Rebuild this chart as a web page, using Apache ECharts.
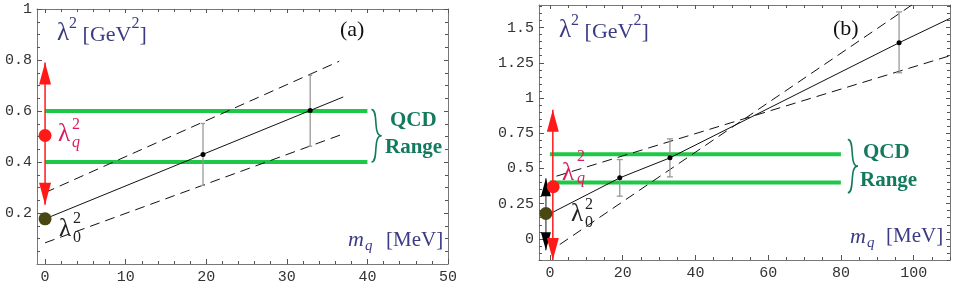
<!DOCTYPE html>
<html><head><meta charset="utf-8">
<script src="https://cdn.jsdelivr.net/npm/echarts@6/dist/echarts.min.js"></script>
<style>html,body{margin:0;padding:0;background:#fff}#c{width:954px;height:286px}</style>
</head><body><div id="c"></div>
<script>
// ---------- Panel (a) data ----------
const aXTicks = [0, 10, 20, 30, 40, 50];
const aYTicks = [0.2, 0.4, 0.6, 0.8, 1];
const aQcdLow = [[0, 0.4], [40, 0.4]];
const aQcdHigh = [[0, 0.6], [40, 0.6]];
const aFitLine = [[0, 0.177], [37, 0.655]];
const aDashUpper = [[0, 0.28], [36.5, 0.795]];
const aDashLower = [[0, 0.083], [37, 0.51]];
const aPoints = [[19.6, 0.429], [32.9, 0.602]];
const aErrors = [[19.6, 0.308, 0.551], [32.9, 0.462, 0.74]];
const aLambdaQ = [[0, 0.504]];
const aLambdaQRange = [[0, 0.232, 0.79]];
const aLambda0 = [[0, 0.177]];
const aBrace = [[40.5, 0.4, 0.606]];

// ---------- Panel (b) data ----------
const bXTicks = [0, 20, 40, 60, 80, 100];
const bYTicks = [0, 0.25, 0.5, 0.75, 1, 1.25, 1.5];
const bQcdLow = [[0, 0.4], [80, 0.4]];
const bQcdHigh = [[0, 0.6], [80, 0.6]];
const bFitLine = [[0.5, 0.185], [19.2, 0.433], [33.0, 0.575], [96.0, 1.392], [110, 1.565]];
const bDashShallow = [[1.8, 0.445], [110, 1.30]];
const bDashSteep = [[2.7, -0.04], [99.5, 1.66]];
const bPoints = [[19.2, 0.433], [33.0, 0.575], [96.0, 1.392]];
const bErrors = [[19.2, 0.303, 0.563], [33.0, 0.44, 0.71], [96.0, 1.179, 1.611]];
const bLambdaQ = [[0.9, 0.37]];
const bLambdaQRange = [[0.8, -0.15, 0.917]];
const bLambda0 = [[-1.1, 0.18]];
const bLambda0Range = [[-1.1, -0.08, 0.43]];
const bBrace = [[81.9, 0.327, 0.705]];

function steps(a, b, s) { const r = []; for (let v = a; v <= b + 1e-9; v += s) r.push(+v.toFixed(4)); return r; }
const aXMinor = steps(0, 50, 2), aYMinor = steps(0.05, 1, 0.05);
const bXMinor = steps(0, 110, 5), bYMinor = steps(-0.15, 1.65, 0.05);

const SERIF = "'Liberation Serif','DejaVu Serif',serif";
const MONO = "'Liberation Mono','DejaVu Sans Mono',monospace";
const FRAME = '#777';
const NAVY = '#3b3b85', PINK = '#d81c5c', TEAL = '#137a5e', GREEN = '#1ec846';

function axesFor(dim, g, min, max, major, minor, fmt) {
  const posA = dim === 'x' ? 'bottom' : 'left';
  const posB = dim === 'x' ? 'top' : 'right';
  const base = { type: 'value', gridIndex: g, min, max, splitLine: { show: false },
    axisLine: { show: true, onZero: false, lineStyle: { color: FRAME, width: 1 } } };
  const tick = (vals, len) => ({ show: true, inside: true, length: len, customValues: vals, lineStyle: { color: '#555', width: 1 } });
  return [
    Object.assign({}, base, { position: posA, axisTick: tick(major, 5),
      axisLabel: { show: true, customValues: major, margin: dim === 'x' ? 6 : 5, fontFamily: MONO, fontSize: 15, color: '#333', formatter: fmt } }),
    Object.assign({}, base, { position: posB, axisTick: tick(major, 4), axisLabel: { show: false } }),
    Object.assign({}, base, { position: posA, axisLine: { show: false, onZero: false }, axisTick: tick(minor, 3), axisLabel: { show: false } }),
    Object.assign({}, base, { position: posB, axisLine: { show: false, onZero: false }, axisTick: tick(minor, 3), axisLabel: { show: false } })
  ];
}
const fmt = v => String(v);

function lineS(ax, data, color, width, type) {
  return { type: 'line', xAxisIndex: ax, yAxisIndex: ax, data, symbol: 'none', showSymbol: false, silent: true,
    lineStyle: { color, width, type: type || 'solid' }, clip: true, z: 3 };
}
function dotS(ax, data, color, size, z) {
  return { type: 'scatter', xAxisIndex: ax, yAxisIndex: ax, data, symbolSize: size, itemStyle: { color, opacity: 1 }, z: z || 6, silent: true };
}
function errS(ax, data, cap) {
  return { type: 'custom', xAxisIndex: ax, yAxisIndex: ax, data, encode: { x: 0, y: [1, 2] }, z: 4, silent: true,
    renderItem: (p, api) => {
      const lo = api.coord([api.value(0), api.value(1)]), hi = api.coord([api.value(0), api.value(2)]);
      const st = { stroke: '#999', lineWidth: 1.3 };
      return { type: 'group', children: [
        { type: 'line', shape: { x1: lo[0], y1: lo[1], x2: hi[0], y2: hi[1] }, style: st },
        { type: 'line', shape: { x1: lo[0] - cap, y1: lo[1], x2: lo[0] + cap, y2: lo[1] }, style: st },
        { type: 'line', shape: { x1: hi[0] - cap, y1: hi[1], x2: hi[0] + cap, y2: hi[1] }, style: st }
      ] };
    } };
}
function arrowS(ax, data, color, shaft, len, half, z) {
  return { type: 'custom', xAxisIndex: ax, yAxisIndex: ax, data, encode: { x: 0, y: [1, 2] }, z: z || 5, silent: true, clip: true,
    renderItem: (p, api) => {
      const lo = api.coord([api.value(0), api.value(1)]), hi = api.coord([api.value(0), api.value(2)]);
      return { type: 'group', children: [
        { type: 'line', shape: { x1: lo[0], y1: lo[1], x2: hi[0], y2: hi[1] }, style: { stroke: shaft, lineWidth: 1.5 } },
        { type: 'polygon', shape: { points: [[hi[0], hi[1]], [hi[0] - half, hi[1] + len], [hi[0] + half, hi[1] + len]] }, style: { fill: color } },
        { type: 'polygon', shape: { points: [[lo[0], lo[1]], [lo[0] - half, lo[1] - len], [lo[0] + half, lo[1] - len]] }, style: { fill: color } }
      ] };
    } };
}
function braceS(ax, data) {
  return { type: 'custom', xAxisIndex: ax, yAxisIndex: ax, data, encode: { x: 0, y: [1, 2] }, z: 5, silent: true,
    renderItem: (p, api) => {
      const b = api.coord([api.value(0), api.value(1)]), t = api.coord([api.value(0), api.value(2)]);
      const x0 = t[0], w = 10, m = (t[1] + b[1]) / 2;
      const st = { stroke: TEAL, lineWidth: 1.6, fill: null };
      return { type: 'group', children: [
        { type: 'bezierCurve', shape: { x1: x0, y1: t[1], cpx1: x0 + w * 0.75, cpy1: t[1], cpx2: x0 + w * 0.1, cpy2: m, x2: x0 + w, y2: m }, style: st },
        { type: 'bezierCurve', shape: { x1: x0 + w, y1: m, cpx1: x0 + w * 0.1, cpy1: m, cpx2: x0 + w * 0.75, cpy2: b[1], x2: x0, y2: b[1] }, style: st }
      ] };
    } };
}

function T(x, y, text, size, color, extra) {
  return { type: 'text', x, y, z: 100, silent: true,
    style: Object.assign({ text, fontSize: size, fontFamily: SERIF, fill: color, verticalAlign: 'middle', align: 'left' }, extra || {}) };
}
function unitLabel(x, y) {
  return { type: 'text', x, y, z: 100, silent: true, style: {
    text: '{l|λ}{s|2}{b| [GeV}{s|2}{b|]}', verticalAlign: 'middle', fill: NAVY,
    rich: { l: { fontSize: 25, fontFamily: SERIF, fill: NAVY, verticalAlign: 'bottom', lineHeight: 30 },
            b: { fontSize: 22, fontFamily: SERIF, fill: NAVY, verticalAlign: 'bottom', lineHeight: 30 },
            s: { fontSize: 16, fontFamily: SERIF, fill: NAVY, verticalAlign: 'top', lineHeight: 30 } } } };
}

const graphics = [
  // panel (a)
  unitLabel(57, 31),
  T(340, 30, '(a)', 22, '#111'),
  T(58, 134, 'λ', 25, PINK), T(72, 125, '2', 16, PINK), T(72, 143, 'q', 16, PINK, { fontStyle: 'italic' }),
  T(59, 229, 'λ', 25, '#222'), T(73, 219, '2', 16, '#222'), T(73, 238, '0', 16, '#222'),
  T(348, 240, 'm', 22, NAVY, { fontStyle: 'italic' }), T(365, 246, 'q', 15, NAVY, { fontStyle: 'italic' }), T(386, 240, '[MeV]', 21, NAVY),
  T(390, 121, 'QCD', 21, TEAL, { fontWeight: 'bold' }), T(385, 148, 'Range', 21, TEAL, { fontWeight: 'bold' }),
  // panel (b)
  unitLabel(559, 28),
  T(833, 29, '(b)', 22, '#111'),
  T(562, 173, 'λ', 25, PINK), T(577, 157, '2', 16, PINK), T(577, 179, 'q', 16, PINK, { fontStyle: 'italic' }),
  T(571, 214, 'λ', 25, '#222'), T(585, 205, '2', 16, '#222'), T(585, 223, '0', 16, '#222'),
  T(850, 237, 'm', 22, NAVY, { fontStyle: 'italic' }), T(867, 243, 'q', 15, NAVY, { fontStyle: 'italic' }), T(886, 236, '[MeV]', 21, NAVY),
  T(863, 153, 'QCD', 21, TEAL, { fontWeight: 'bold' }), T(860, 181, 'Range', 21, TEAL, { fontWeight: 'bold' })
];

const option = {
  animation: false,
  backgroundColor: '#fff',
  grid: [
    { left: 37, top: 9, width: 411, height: 255, containLabel: false, outerBoundsMode: 'none' },
    { left: 539, top: 5, width: 411, height: 255, containLabel: false, outerBoundsMode: 'none' }
  ],
  xAxis: [].concat(
    axesFor('x', 0, -1, 50, aXTicks, aXMinor, fmt),
    axesFor('x', 1, -3, 110, bXTicks, bXMinor, fmt)),
  yAxis: [].concat(
    axesFor('y', 0, 0, 1, aYTicks, aYMinor, fmt),
    axesFor('y', 1, -0.15, 1.66, bYTicks, bYMinor, fmt)),
  series: [
    // (a)
    lineS(0, aQcdLow, GREEN, 4), lineS(0, aQcdHigh, GREEN, 4),
    lineS(0, aDashUpper, '#111', 1, [10, 6]), lineS(0, aDashLower, '#111', 1, [10, 6]),
    lineS(0, aFitLine, '#111', 1),
    errS(0, aErrors, 2),
    dotS(0, aPoints, '#000', 5),
    arrowS(0, aLambdaQRange, '#ff1a1a', '#ff1a1a', 22, 6),
    dotS(0, aLambdaQ, '#ff1a1a', 13, 7), dotS(0, aLambda0, '#4a4812', 13, 7),
    braceS(0, aBrace),
    // (b)
    lineS(4, bQcdLow, GREEN, 4), lineS(4, bQcdHigh, GREEN, 4),
    lineS(4, bDashShallow, '#111', 1, [10, 6]), lineS(4, bDashSteep, '#111', 1, [10, 6]),
    lineS(4, bFitLine, '#111', 1),
    errS(4, bErrors, 3),
    dotS(4, bPoints, '#000', 5),
    arrowS(4, bLambda0Range, '#000', '#666', 18, 5, 5),
    arrowS(4, bLambdaQRange, '#ff1a1a', '#ff1a1a', 22, 6, 6),
    dotS(4, bLambdaQ, '#ff1a1a', 13, 7), dotS(4, bLambda0, '#4a4812', 13, 7),
    braceS(4, bBrace)
  ],
  graphic: graphics
};
const chart = echarts.init(document.getElementById('c'));
chart.setOption(option);
</script>
</body></html>
